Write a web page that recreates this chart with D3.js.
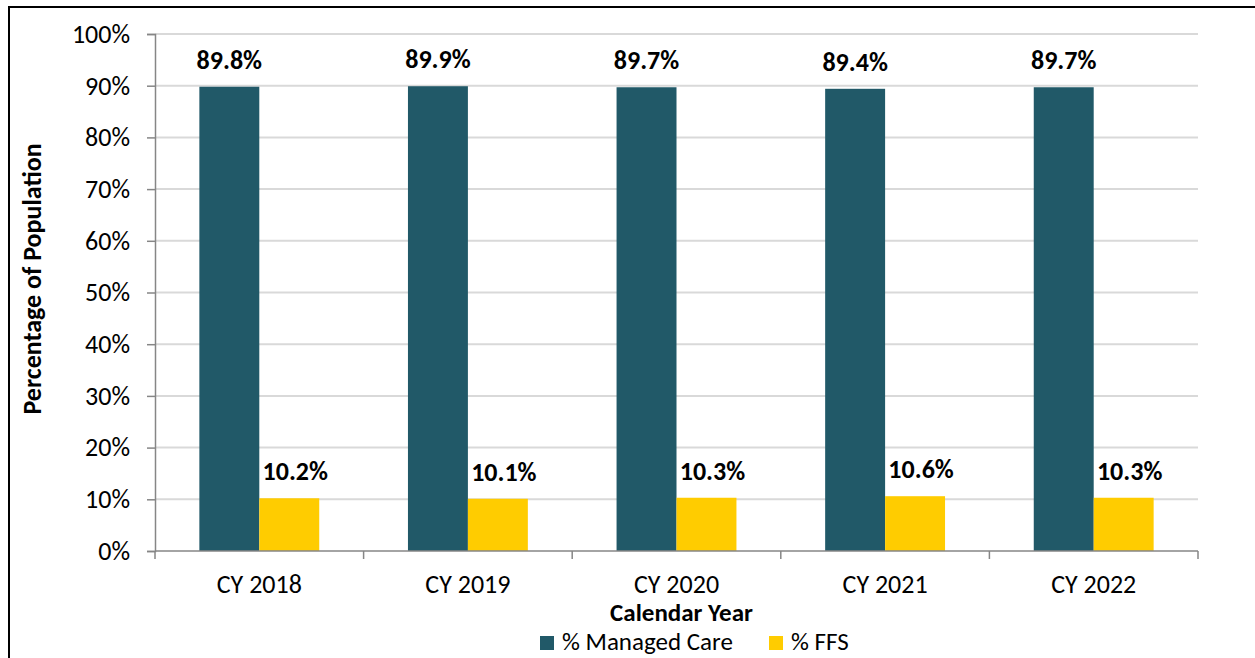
<!DOCTYPE html>
<html>
<head>
<meta charset="utf-8">
<script src="https://cdn.jsdelivr.net/npm/d3@7"></script>
<style>
  body { margin: 0; background: #fff; }
  text { font-family: Carlito, "Open Sans", "Liberation Sans", sans-serif; }
</style>
</head>
<body>
<div id="chart"></div>
<script>
var years = ["CY 2018", "CY 2019", "CY 2020", "CY 2021", "CY 2022"];
var managedCare = [89.8, 89.9, 89.7, 89.4, 89.7];
var ffs = [10.2, 10.1, 10.3, 10.6, 10.3];
var seriesNames = ["% Managed Care", "% FFS"];
var seriesColors = ["#215968", "#FFCC00"];
var yTicks = [0, 10, 20, 30, 40, 50, 60, 70, 80, 90, 100];

var width = 1255, height = 658;
var margin = {left: 155, right: 57, top: 34, bottom: 107};
var fs = 26;

var svg = d3.select("#chart").append("svg")
    .attr("width", width).attr("height", height);

// outer frame
svg.append("rect")
    .attr("x", 9).attr("y", 7)
    .attr("width", width + 10).attr("height", height + 10)
    .attr("fill", "none").attr("stroke", "#000").attr("stroke-width", 2);

var x = d3.scaleBand().domain(years)
    .range([margin.left, width - margin.right]);
var inner = d3.scaleBand().domain([0, 1])
    .range([0, x.bandwidth()]).paddingOuter(0.74).paddingInner(0);
var y = d3.scaleLinear().domain([0, 100])
    .range([height - margin.bottom, margin.top]);

// gridlines
svg.append("g").selectAll("line").data(yTicks.slice(1)).enter().append("line")
    .attr("x1", margin.left).attr("x2", width - margin.right)
    .attr("y1", function (d) { return y(d); })
    .attr("y2", function (d) { return y(d); })
    .attr("stroke", "#d9d9d9").attr("stroke-width", 2);

// y axis
var yAxis = svg.append("g")
    .attr("transform", "translate(" + margin.left + ",0)")
    .call(d3.axisLeft(y).tickValues(yTicks).tickSize(8).tickPadding(17)
        .tickFormat(function (d) { return d + "%"; }));
yAxis.select(".domain").attr("stroke", "#868686").attr("stroke-width", 1.5);
yAxis.selectAll(".tick line").attr("stroke", "#868686").attr("stroke-width", 1.5);
yAxis.selectAll("text").attr("font-size", fs).attr("fill", "#000")
    .style("font-family", 'Carlito, "Open Sans", "Liberation Sans", sans-serif');

// bars
var data = years.map(function (yr, i) {
    return {year: yr, vals: [managedCare[i], ffs[i]]};
});
var groups = svg.append("g").selectAll("g").data(data).enter().append("g")
    .attr("transform", function (d) { return "translate(" + x(d.year) + ",0)"; });

groups.selectAll("rect").data(function (d) { return d.vals; }).enter().append("rect")
    .attr("x", function (d, i) { return inner(i); })
    .attr("y", function (d) { return y(d); })
    .attr("width", inner.bandwidth())
    .attr("height", function (d) { return y(0) - y(d); })
    .attr("fill", function (d, i) { return seriesColors[i]; });

groups.selectAll("text").data(function (d) { return d.vals; }).enter().append("text")
    .attr("x", function (d, i) { return inner(i) + inner.bandwidth() / 2 + (i === 1 ? 6 : 0); })
    .attr("y", function (d) { return y(d) - 18; })
    .attr("text-anchor", "middle")
    .attr("font-size", fs).attr("font-weight", "bold")
    .text(function (d) { return d.toFixed(1) + "%"; });

// x axis
var xAxis = svg.append("g")
    .attr("transform", "translate(0," + y(0) + ")");
xAxis.append("line")
    .attr("x1", margin.left).attr("x2", width - margin.right)
    .attr("stroke", "#868686").attr("stroke-width", 1.5);
var bounds = years.map(function (d) { return x(d); }).concat([width - margin.right]);
xAxis.selectAll(".sep").data(bounds).enter().append("line")
    .attr("x1", function (d) { return d; }).attr("x2", function (d) { return d; })
    .attr("y1", 0).attr("y2", 8)
    .attr("stroke", "#868686").attr("stroke-width", 1.5);
xAxis.selectAll(".lbl").data(years).enter().append("text")
    .attr("x", function (d) { return x(d) + x.bandwidth() / 2; })
    .attr("y", 42)
    .attr("text-anchor", "middle").attr("font-size", fs)
    .text(function (d) { return d; });

// axis titles
svg.append("text")
    .attr("x", (margin.left + width - margin.right) / 2 + 5)
    .attr("y", 621)
    .attr("text-anchor", "middle").attr("font-size", 25).attr("font-weight", "bold")
    .text("Calendar Year");
svg.append("text")
    .attr("transform", "translate(41,279) rotate(-90)")
    .attr("text-anchor", "middle").attr("font-size", fs).attr("font-weight", "bold")
    .text("Percentage of Population");

// legend
var legendX = [540, 769];
var legend = svg.append("g").selectAll("g").data(seriesNames).enter().append("g")
    .attr("transform", function (d, i) { return "translate(" + legendX[i] + ",636)"; });
legend.append("rect")
    .attr("width", 14).attr("height", 14)
    .attr("fill", function (d, i) { return seriesColors[i]; });
legend.append("text")
    .attr("x", 22).attr("y", 14)
    .attr("font-size", 25)
    .text(function (d) { return d; });
</script>
</body>
</html>
